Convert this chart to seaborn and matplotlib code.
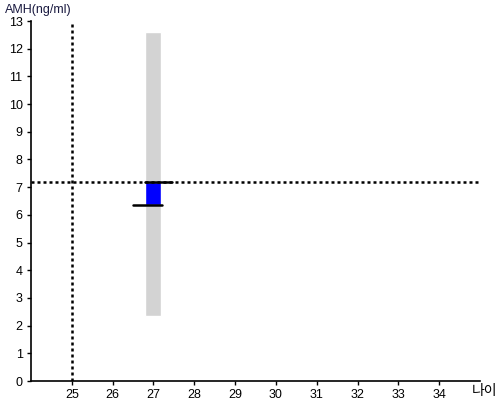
import matplotlib
matplotlib.use("Agg")
import matplotlib.pyplot as plt
import seaborn as sns
import pandas as pd

# data
ages = [27]
range_low = [2.35]
range_high = [12.6]
box_low = [6.35]
box_high = [7.18]
ref_age = 25
ref_amh = 7.18
x_ticks = [25, 26, 27, 28, 29, 30, 31, 32, 33, 34]
y_ticks = list(range(0, 14))

sns.set_style("ticks")
plt.rcParams['font.family'] = ['Liberation Sans', 'Noto Sans CJK KR', 'DejaVu Sans']

fig = plt.figure(figsize=(5, 4), dpi=100)
ax = fig.add_axes([0.062, 0.0475, 0.898, 0.9])

df = pd.DataFrame({"age": ages, "low": range_low, "high": range_high,
                   "blow": box_low, "bhigh": box_high})

ax.bar(df["age"], df["high"] - df["low"], bottom=df["low"], width=0.39,
       color="#d3d3d3", zorder=1)
ax.bar(df["age"], df["bhigh"] - df["blow"], bottom=df["blow"], width=0.39,
       color="#0000ff", zorder=2)

ax.axhline(ref_amh, color="black", linestyle=(0, (1.2, 1.2)), linewidth=1.8, zorder=3)
ax.axvline(ref_age, color="black", linestyle=(0, (1.2, 1.2)), linewidth=1.8, zorder=3)

# black marker segments at box edges
for a, lo, hi in zip(ages, box_low, box_high):
    sns.lineplot(x=[a - 0.5, a + 0.2], y=[lo, lo], ax=ax, color="black",
                 linewidth=1.8, zorder=4)
    sns.lineplot(x=[a - 0.2, a + 0.45], y=[hi, hi], ax=ax, color="black",
                 linewidth=1.8, zorder=4)

ax.set_xlim(24, 35)
ax.set_ylim(0, 13)
ax.set_xticks(x_ticks)
ax.set_yticks(y_ticks)
ax.tick_params(axis="both", labelsize=9, length=3, width=1, colors="black",
               pad=3)
for s in ["top", "right"]:
    ax.spines[s].set_visible(False)
for s in ["left", "bottom"]:
    ax.spines[s].set_color("black")
    ax.spines[s].set_linewidth(1.2)

ax.set_xlabel("")
ax.set_ylabel("")
fig.text(0.01, 0.99, "AMH(ng/ml)", fontsize=9, ha="left", va="top", color="#1a1a40")
fig.text(0.995, 0.005, "나이", fontsize=10, ha="right", va="bottom", color="black")

fig.savefig("out.png", dpi=100)
